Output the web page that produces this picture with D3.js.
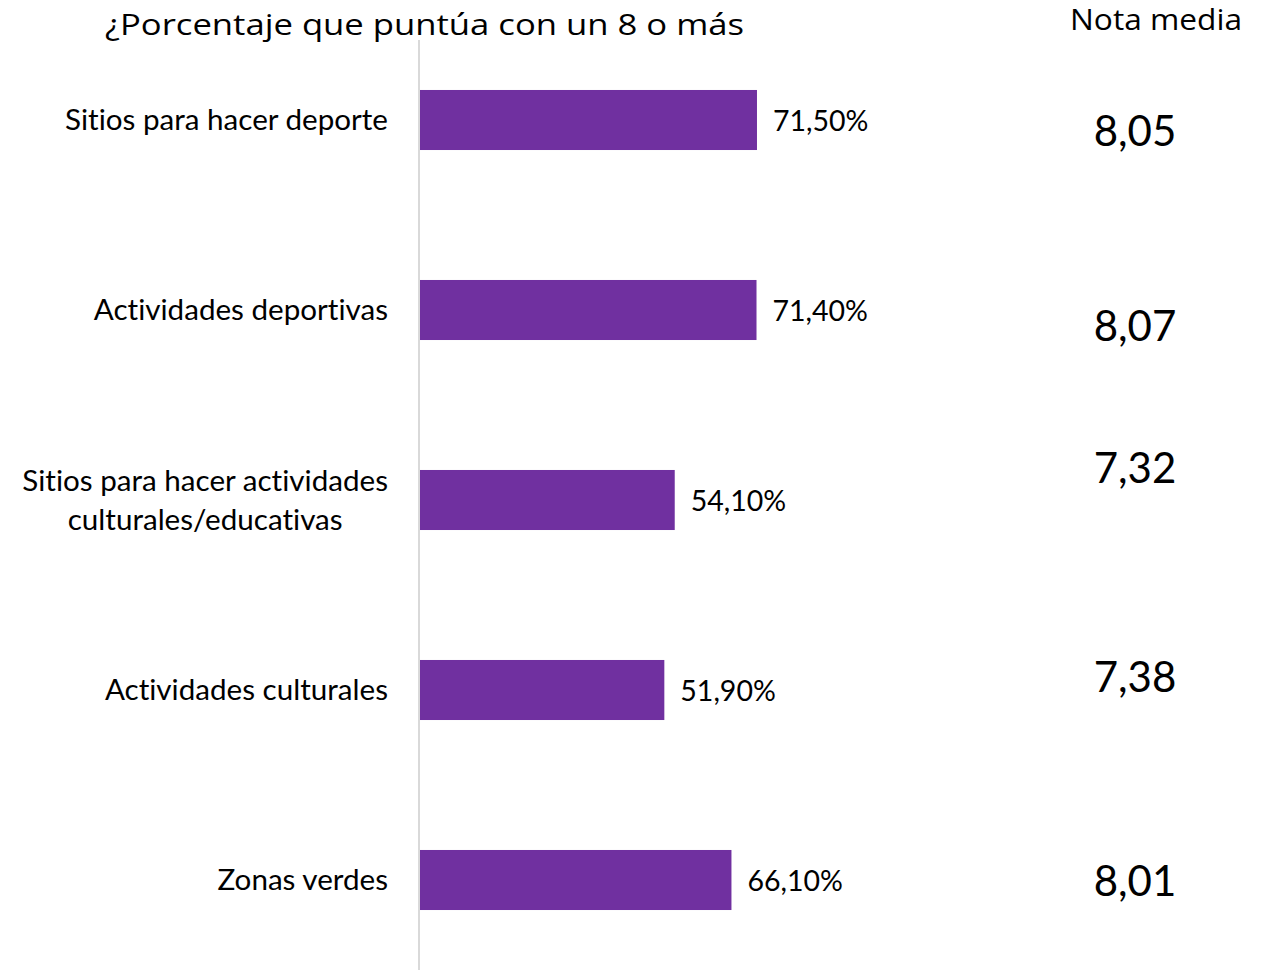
<!DOCTYPE html>
<html><head><meta charset="utf-8">
<script src="https://cdn.jsdelivr.net/npm/d3@7"></script>
<style>html,body{margin:0;padding:0;background:#fff;} text{font-variant-ligatures:none;}</style>
</head><body>
<svg id="chart" width="1271" height="970"></svg>
<script>
const categories = [
  ["Sitios para hacer deporte"],
  ["Actividades deportivas"],
  ["Sitios para hacer actividades", "culturales/educativas"],
  ["Actividades culturales"],
  ["Zonas verdes"]
];
const porcentajes = [71.5, 71.4, 54.1, 51.9, 66.1];
const notaMedia = [8.05, 8.07, 7.32, 7.38, 8.01];
const titulo = "¿Porcentaje que puntúa con un 8 o más";
const tituloNota = "Nota media";
// layout nudges for the "Nota media" column (pixels, relative to bar centre)
const notaOffsets = [10, 15, -33, -14, 0];

const svg = d3.select("#chart");
const fmtPct = v => d3.format(".2f")(v).replace(".", ",") + "%";
const fmtNota = v => d3.format(".2f")(v).replace(".", ",");

const x = d3.scaleLinear().domain([0, 100]).range([419, 419 + 472.7]);
const y = d3.scaleBand().domain(d3.range(categories.length)).range([25, 975]).paddingInner(0.684).paddingOuter(0.342);

const labelFont = "Lato, 'Open Sans', sans-serif";
const titleFont = "'Open Sans', Lato, sans-serif";

// axis line
svg.append("line").attr("x1", 419).attr("x2", 419).attr("y1", 40).attr("y2", 970)
  .attr("stroke", "#d9d9d9").attr("stroke-width", 2);

// bars
svg.selectAll("rect.bar").data(porcentajes).join("rect")
  .attr("class", "bar")
  .attr("x", x(0) + 1)
  .attr("y", (d, i) => y(i))
  .attr("width", d => x(d) - x(0) - 1)
  .attr("height", y.bandwidth())
  .attr("fill", "#7030A0");

// value labels
svg.selectAll("text.val").data(porcentajes).join("text")
  .attr("class", "val")
  .attr("x", d => x(d) + 16)
  .attr("y", (d, i) => y(i) + y.bandwidth() / 2 + 11)
  .attr("font-family", labelFont).attr("font-size", 28.5).attr("fill", "#000")
  .text(d => fmtPct(d));

// category labels
const catG = svg.selectAll("g.cat").data(categories).join("g").attr("class", "cat");
catG.each(function(lines, i) {
  const g = d3.select(this);
  const cy = y(i) + y.bandwidth() / 2;
  const lh = 39;
  const t = g.append("text")
    .attr("font-family", labelFont).attr("font-size", 29.6).attr("fill", "#000");
  lines.forEach((ln, k) => {
    t.append("tspan").attr("x", 0).attr("y", cy + 10 + (k - (lines.length - 1) / 2) * lh).text(ln);
  });
  // right-align the block at x=388, center lines within it
  const bb = t.node().getBBox();
  t.selectAll("tspan").each(function() {
    const w = this.getComputedTextLength();
    d3.select(this).attr("x", 388 - bb.width / 2 - w / 2);
  });
});

// title
svg.append("text").attr("x", 105).attr("y", 35)
  .attr("font-family", titleFont).attr("font-size", 30).attr("fill", "#000")
  .attr("textLength", 639).attr("lengthAdjust", "spacingAndGlyphs")
  .text(titulo);

svg.append("text").attr("x", 1070).attr("y", 30)
  .attr("font-family", titleFont).attr("font-size", 29).attr("fill", "#000")
  .attr("textLength", 172).attr("lengthAdjust", "spacingAndGlyphs")
  .text(tituloNota);

// nota media values
svg.selectAll("text.nota").data(notaMedia).join("text")
  .attr("class", "nota")
  .attr("x", 1135)
  .attr("y", (d, i) => y(i) + y.bandwidth() / 2 + notaOffsets[i] + 16)
  .attr("text-anchor", "middle")
  .attr("font-family", labelFont).attr("font-size", 42).attr("fill", "#000")
  .text(d => fmtNota(d));
</script>
</body></html>
